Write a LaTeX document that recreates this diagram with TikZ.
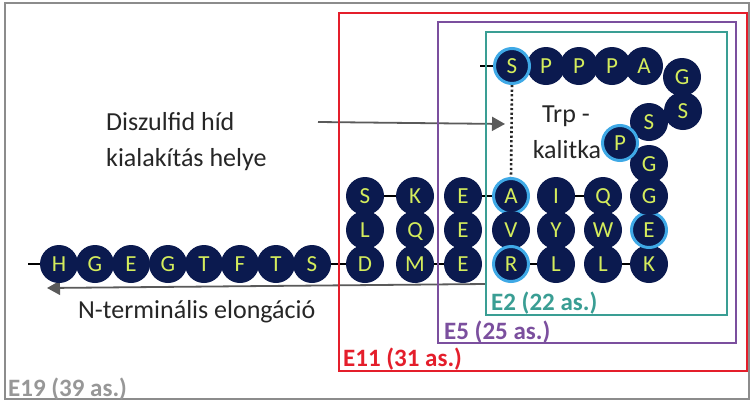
\documentclass[tikz,border=0pt]{standalone}
\usepackage{fontspec}
\setmainfont{Carlito}
\usetikzlibrary{arrows.meta,backgrounds}
\definecolor{navy}{HTML}{0B1A4F}
\definecolor{aacol}{HTML}{D4EC5C}
\definecolor{glowcol}{HTML}{3FA9E6}
\definecolor{redbox}{HTML}{E41E2B}
\definecolor{purplebox}{HTML}{7B4F9E}
\definecolor{tealbox}{HTML}{3A9E94}
\definecolor{graybox}{HTML}{8C8C8C}
\definecolor{txt}{HTML}{262626}
\definecolor{arrowgray}{HTML}{5A5A5A}
\begin{document}
\begin{tikzpicture}[x=1pt,y=-1pt,
  aa/.style={circle, fill=navy, minimum size=38pt, inner sep=0pt, text=aacol,
    text height=15pt, text depth=0pt, font=\fontsize{23}{23}\selectfont},
  glow/.style={aa, minimum size=35pt, draw=glowcol, line width=3pt},
  bond/.style={line width=2.5pt, black},
  dotbond/.style={line width=2.6pt, txt, dash pattern=on 2.2pt off 2.4pt},
  frame/.style={line width=2pt},
  lbl/.style={anchor=base west, inner sep=0pt, font=\fontsize{25}{25}\selectfont\bfseries},
  maintext/.style={anchor=base west, inner sep=0pt, text=txt, font=\fontsize{26}{36}\selectfont},
  grayarrow/.style={line width=1.8pt, arrowgray, -{Triangle[length=13pt,width=14pt]}}
]
\useasboundingbox (0,0) rectangle (752,402);
% frames
\draw[frame, graybox] (5,3) rectangle (749,399);
\draw[frame, redbox] (339,13) rectangle (747,371);
\draw[frame, purplebox] (438,22) rectangle (736,343);
\draw[frame, tealbox] (486,32) rectangle (727,315);
% labels
\node[lbl, text=graybox!90] (l19) at (8,396) {E19 (39 as.)};
\node[lbl, text=redbox] (l11) at (343,366) {E11 (31 as.)};
\node[lbl, text=purplebox] (l5) at (444,339) {E5 (25 as.)};
\node[lbl, text=tealbox] (l2) at (491,310) {E2 (22 as.)};
% texts
\node[maintext] (t1) at (106,130) {Diszulfid híd};
\node[maintext] (t2) at (106,166) {kialakítás helye};
\node[maintext] (t3) at (78,318) {N-terminális elongáció};
\node[maintext, anchor=base] (t4) at (566,122) {Trp -};
\node[maintext, anchor=base] (t5) at (567,158) {kalitka};
% N-terminal row
\node[aa] (nH) at (59,264) {H};
\node[aa] (nG1) at (95,264) {G};
\node[aa] (nE1) at (131,264) {E};
\node[aa] (nG2) at (168,264) {G};
\node[aa] (nT1) at (204,264) {T};
\node[aa] (nF) at (240,264) {F};
\node[aa] (nT2) at (276,264) {T};
\node[aa] (nS) at (312,264) {S};
% columns
\node[aa] (cD) at (365,264) {D};
\node[aa] (cL) at (365,230) {L};
\node[aa] (cS) at (365,196) {S};
\node[aa] (cK) at (415,196) {K};
\node[aa] (cQ) at (415,230) {Q};
\node[aa] (cM) at (415,264) {M};
\node[aa] (cE1) at (463,264) {E};
\node[aa] (cE2) at (463,230) {E};
\node[aa] (cE3) at (463,196) {E};
\node[glow] (cA) at (511,196) {A};
\node[aa] (cV) at (511,230) {V};
\node[glow] (cR) at (511,264) {R};
\node[aa] (cL2) at (556,264) {L};
\node[aa] (cY) at (556,230) {Y};
\node[aa] (cI) at (556,196) {I};
\node[aa] (cQ2) at (603,196) {Q};
\node[aa] (cW) at (603,230) {W};
\node[aa] (cL3) at (603,264) {L};
\node[aa] (cK2) at (649,264) {K};
\node[glow] (cE4) at (649,230) {E};
\node[aa] (cG1) at (649,196) {G};
\node[aa] (cG2) at (649,164) {G};
\node[aa] (cS2) at (649,122) {S};
\node[glow] (cP) at (620,143) {P};
\node[aa] (cS3) at (683,111) {S};
\node[aa] (cG3) at (682,77) {G};
\node[aa] (cA2) at (644,66) {A};
\node[aa] (cP1) at (612,66) {P};
\node[aa] (cP2) at (579,66) {P};
\node[aa] (cP3) at (546,66) {P};
\node[glow] (cS4) at (512,66) {S};
% free ends
\coordinate (startN) at (28,264);
\coordinate (startC) at (480,66);
\coordinate (a1s) at (318,122);
\coordinate (a1e) at (505,124);
\coordinate (a2s) at (486,284);
\coordinate (a2e) at (47,288);
\begin{pgfonlayer}{background}
\fill[white] (0,0) rectangle (752,402);
\draw[grayarrow] (a1s) -- (a1e);
\draw[grayarrow] (a2s) -- (a2e);
\draw[bond] (startN) -- (nH);
\draw[bond] (nS) -- (cD);
\draw[bond] (cS) -- (cK);
\draw[bond] (cM) -- (cE1);
\draw[bond] (cE3) -- (cA);
\draw[bond] (cR) -- (cL2);
\draw[bond] (cI) -- (cQ2);
\draw[bond] (cL3) -- (cK2);
\draw[bond] (startC) -- (cS4);
\draw[dotbond] (cS4.south) -- (cA.north);
\end{pgfonlayer}
\end{tikzpicture}
\end{document}
